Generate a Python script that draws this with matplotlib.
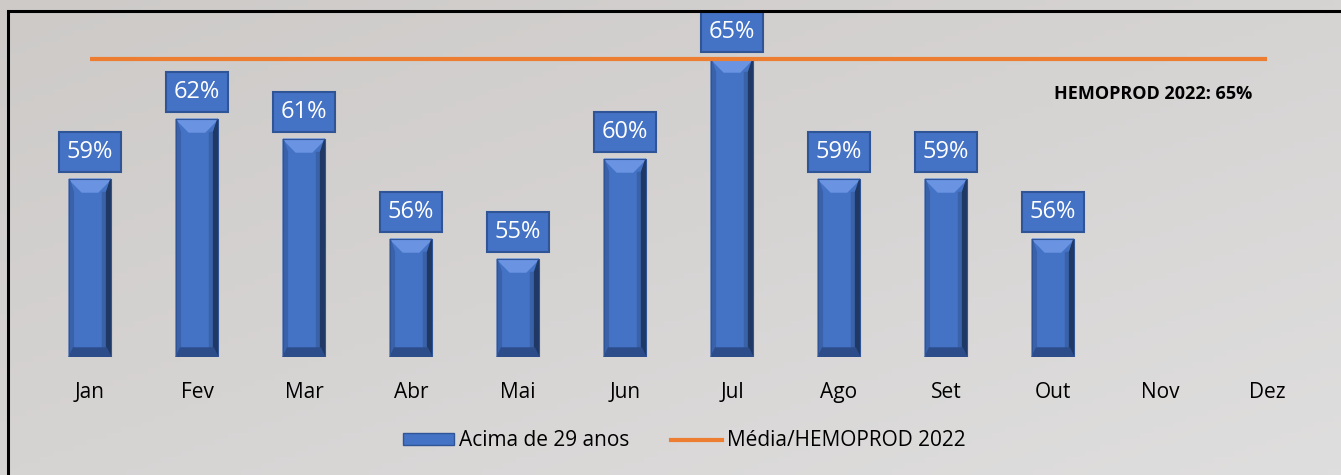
import matplotlib.pyplot as plt
import numpy as np
from matplotlib.patches import Polygon, Rectangle, Patch
from matplotlib.lines import Line2D
from matplotlib.colors import LinearSegmentedColormap

months = ["Jan", "Fev", "Mar", "Abr", "Mai", "Jun", "Jul", "Ago", "Set", "Out", "Nov", "Dez"]
acima_29 = [59, 62, 61, 56, 55, 60, 65, 59, 59, 56]
media_hemoprod = [65] * 12

plt.rcParams['font.family'] = ['Open Sans', 'DejaVu Sans']

fig = plt.figure(figsize=(13.41, 4.75), dpi=100)
fig.patch.set_facecolor('#d6d4d2')

# subtle background gradient, darker top-left
bg = fig.add_axes([0, 0, 1, 1], zorder=-10)
gx, gy = np.meshgrid(np.linspace(0, 1, 200), np.linspace(0, 1, 80))
grad = (gx + gy) / 2
bg.imshow(grad, cmap=LinearSegmentedColormap.from_list('g', ['#cdcac8', '#dfdede']),
          aspect='auto', extent=[0, 1, 0, 1], origin='upper')
bg.axis('off')
fig.patches.append(Rectangle((8 / 1341, -0.1), 1.2, 1 - 11 / 475 + 0.1, transform=fig.transFigure,
                             fill=False, edgecolor='black', linewidth=2.2, zorder=5))

ax = fig.add_axes([0.0272, 0.2484, 0.9575, 0.7284])
ax.set_facecolor('none')
x = np.arange(len(months))
xb = x[:len(acima_29)]
w = 0.39
ymin = 50.1
ax.bar(xb, np.array(acima_29) - ymin, bottom=ymin, width=w, color='#4472c4', zorder=2)

# bevel effect
tx, ty = 0.12, 0.65   # top bevel
sx = 0.04             # side bevel
bby = 0.45            # bottom bevel
for xi, v in zip(xb, acima_29):
    l, r = xi - w / 2, xi + w / 2
    ax.add_patch(Polygon([(l, v), (r, v), (r - tx, v - ty), (l + tx, v - ty)], color='#6a94e2', zorder=3))
    ax.add_patch(Polygon([(r, v), (r, ymin), (r - sx, ymin + bby), (r - sx, v - ty)], color='#1f3864', zorder=3))
    ax.add_patch(Rectangle((r - 2 * sx, ymin + bby), sx, v - ty - ymin - bby, color='#3a62a9', zorder=2.5))
    ax.add_patch(Polygon([(l, v), (l, ymin), (l + sx, ymin + bby), (l + sx, v - ty)], color='#3a62ab', zorder=3))
    ax.add_patch(Polygon([(l, ymin), (r, ymin), (r - sx, ymin + bby), (l + sx, ymin + bby)], color='#2c4c8a', zorder=3))
    ax.add_patch(Rectangle((l, ymin), w, v - ymin, fill=False, edgecolor='#2f5597', linewidth=0.8, zorder=3))
    ax.text(xi, v + 1.35, f"{v}%", ha='center', va='center', color='white', fontsize=17, zorder=6,
            bbox=dict(boxstyle='square,pad=0.32', facecolor='#4472c4', edgecolor='#2f5597', linewidth=1.5))

ax.plot(x, media_hemoprod, color='#ed7d31', linewidth=3, zorder=4, solid_capstyle='butt')
ax.text(9.94, 63.25, "HEMOPROD 2022: 65%", fontsize=13, fontweight='bold', ha='center', va='center')

ax.set_xlim(-0.5, 11.5)
ax.set_ylim(ymin, 67.4)
ax.set_xticks(x)
ax.set_xticklabels(months, fontsize=15)
ax.tick_params(axis='x', length=0, pad=18)
ax.set_yticks([])
for s in ax.spines.values():
    s.set_visible(False)

handles = [Patch(facecolor='#4472c4', edgecolor='#2f5597'),
           Line2D([0], [0], color='#ed7d31', linewidth=3)]
fig.legend(handles, ["Acima de 29 anos", "Média/HEMOPROD 2022"], loc='center', bbox_to_anchor=(0.510, 0.072),
           ncol=2, frameon=False, fontsize=15, handlelength=2.45, handleheight=0.5, handletextpad=0.24,
           columnspacing=2.0)

fig.savefig('out.png', dpi=100, facecolor=fig.get_facecolor())
